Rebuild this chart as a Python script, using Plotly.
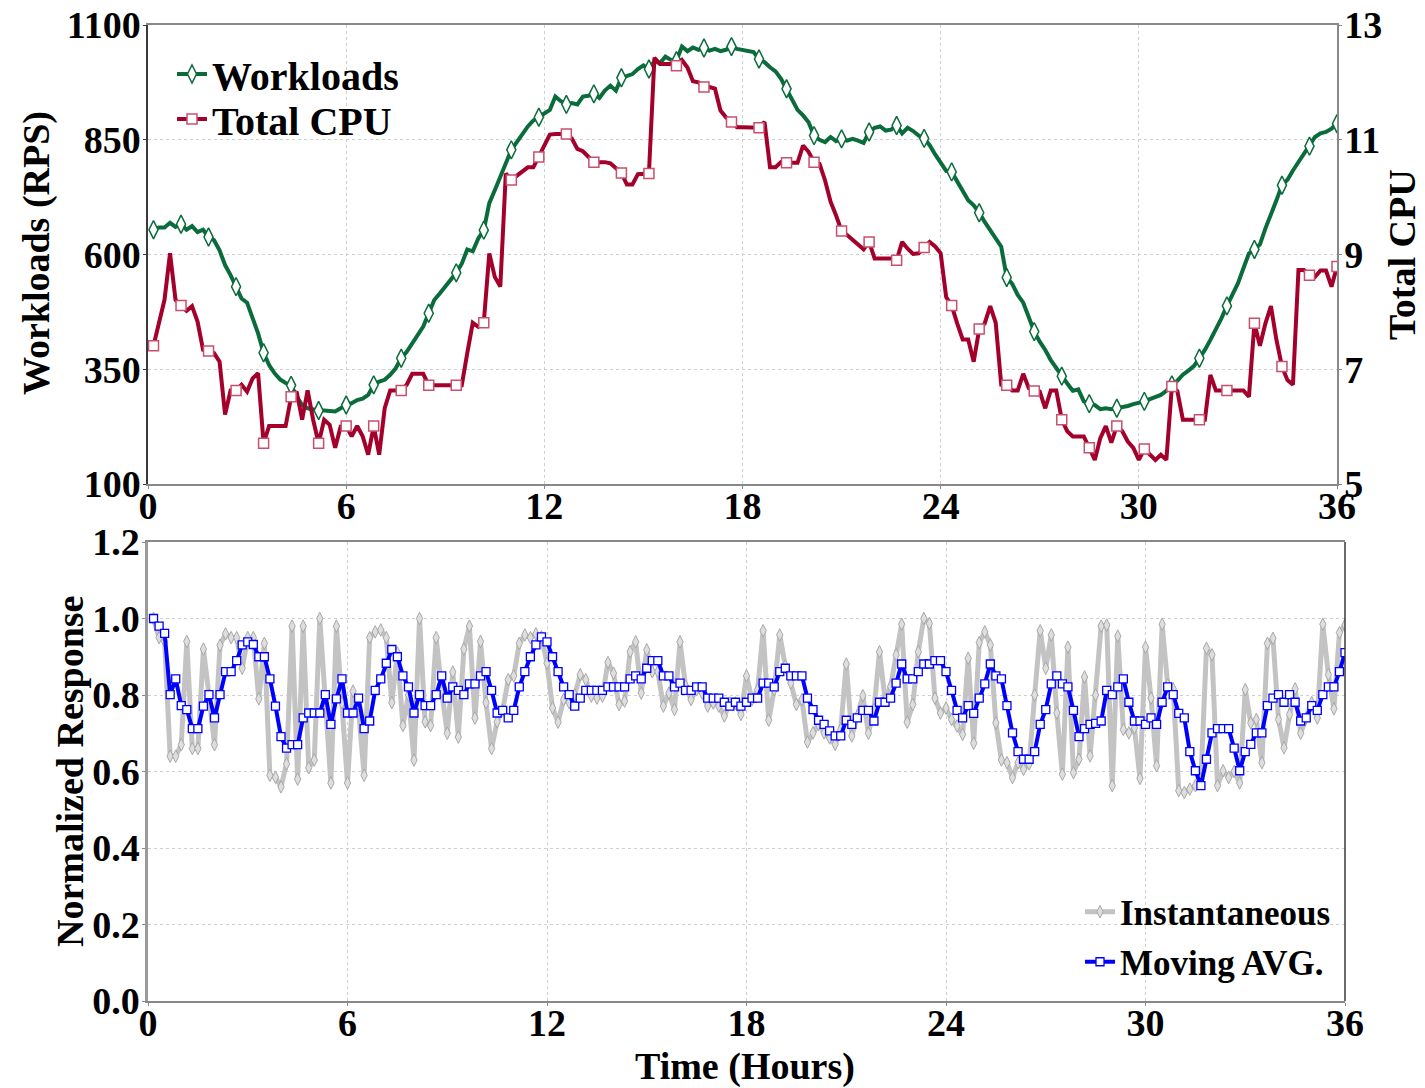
import plotly.graph_objects as go

# ---------------- data (10-minute samples, hours) ----------------
hours = [i / 6 for i in range(1, 217)]

workloads = [
    654, 659, 659, 669, 660, 666, 654, 662, 649, 654,
    638, 631, 609, 577, 555, 530, 504, 495, 461, 428,
    386, 359, 341, 328, 320, 315, 291, 272, 265, 262,
    260, 260, 260, 258, 265, 272, 276, 283, 286, 294,
    316, 323, 327, 338, 352, 374, 388, 407, 425, 443,
    472, 501, 515, 530, 548, 560, 580, 611, 607, 635,
    653, 712, 740, 769, 801, 828, 845, 863, 879, 892,
    899, 908, 915, 944, 934, 927, 930, 927, 944, 946,
    950, 941, 957, 968, 957, 985, 988, 993, 1004, 1012,
    1004, 1021, 1017, 1031, 1024, 1022, 1053, 1043, 1051, 1046,
    1050, 1044, 1048, 1043, 1046, 1053, 1048, 1046, 1044, 1041,
    1026, 1019, 1008, 999, 983, 961, 939, 915, 903, 888,
    859, 850, 845, 856, 847, 852, 848, 852, 848, 843,
    867, 876, 879, 870, 872, 881, 864, 876, 869, 859,
    853, 838, 818, 799, 782, 780, 760, 740, 718, 707,
    691, 671, 653, 638, 617, 550, 536, 512, 495, 464,
    432, 410, 392, 370, 352, 335, 319, 303, 306, 280,
    275, 272, 263, 265, 263, 265, 267, 270, 274, 276,
    280, 285, 289, 294, 303, 316, 325, 338, 347, 357,
    374, 392, 414, 436, 461, 488, 514, 537, 570, 602,
    611, 622, 657, 686, 718, 751, 763, 783, 801, 820,
    836, 856, 864, 867, 874, 885,
]

total_cpu = [
    7.41, 7.80, 8.21, 9.02, 8.21, 8.11, 8.02, 8.10, 7.83, 7.34,
    7.32, 7.28, 7.13, 6.21, 6.63, 6.63, 6.73, 6.61, 6.84, 6.93,
    5.71, 6.01, 6.01, 6.01, 6.01, 6.52, 6.61, 6.12, 6.63, 6.12,
    5.71, 6.12, 6.03, 5.63, 6.00, 6.01, 5.83, 6.01, 5.83, 5.51,
    6.01, 5.51, 6.32, 6.63, 6.63, 6.63, 6.73, 6.92, 6.92, 6.92,
    6.72, 6.72, 6.72, 6.72, 6.72, 6.72, 6.72, 7.28, 7.81, 7.74,
    7.81, 9.02, 8.61, 8.44, 10.41, 10.30, 10.38, 10.46, 10.52, 10.52,
    10.70, 10.90, 11.09, 11.10, 11.10, 11.10, 11.02, 10.84, 10.80, 10.71,
    10.61, 10.61, 10.61, 10.59, 10.50, 10.42, 10.22, 10.22, 10.40, 10.41,
    10.41, 12.43, 12.32, 12.32, 12.32, 12.29, 12.39, 12.26, 12.02, 12.00,
    11.92, 11.92, 11.89, 11.51, 11.39, 11.31, 11.22, 11.22, 11.22, 11.22,
    11.21, 11.31, 10.52, 10.52, 10.61, 10.60, 10.60, 10.60, 10.90, 10.79,
    10.61, 10.58, 10.29, 9.92, 9.68, 9.41, 9.34, 9.25, 9.16, 9.09,
    9.22, 8.93, 8.93, 8.93, 8.93, 8.90, 9.22, 9.10, 9.01, 9.02,
    9.12, 9.22, 9.14, 9.02, 8.26, 8.11, 7.80, 7.52, 7.52, 7.13,
    7.70, 7.80, 8.10, 7.81, 6.73, 6.72, 6.63, 6.63, 6.92, 6.67,
    6.62, 6.61, 6.32, 6.63, 6.63, 6.12, 5.92, 5.83, 5.83, 5.83,
    5.63, 5.42, 5.80, 6.01, 5.72, 6.01, 5.92, 5.74, 5.63, 5.42,
    5.61, 5.51, 5.42, 5.51, 5.42, 6.70, 6.62, 6.12, 6.12, 6.12,
    6.12, 6.12, 6.90, 6.63, 6.63, 6.63, 6.62, 6.63, 6.63, 6.52,
    7.80, 7.41, 7.80, 8.10, 7.51, 7.05, 6.81, 6.73, 8.73, 8.73,
    8.64, 8.61, 8.72, 8.72, 8.44, 8.79,
]

instantaneous = [
    1.00, 0.95, 0.94, 0.64, 0.64, 0.67, 0.94, 0.66, 0.66, 0.92,
    0.80, 0.67, 0.93, 0.96, 0.95, 0.95, 0.87, 0.95, 0.95, 0.79,
    0.935, 0.59, 0.585, 0.56, 0.62, 0.98, 0.58, 0.98, 0.61, 0.63,
    1.00, 0.79, 0.57, 0.98, 0.78, 0.57, 0.81, 0.76, 0.59, 0.95,
    0.965, 0.97, 0.95, 0.78, 0.91, 0.72, 0.80, 0.63, 1.00, 0.73,
    0.72, 0.95, 0.81, 0.70, 0.86, 0.69, 0.92, 0.98, 0.74, 0.94,
    0.78, 0.66, 0.73, 0.76, 0.84, 0.85, 0.935, 0.957, 0.95, 0.96,
    0.952, 0.883, 0.766, 0.729, 0.788, 0.78, 0.80, 0.853, 0.840, 0.797,
    0.792, 0.797, 0.885, 0.857, 0.775, 0.784, 0.913, 0.939, 0.805, 0.918,
    0.861, 0.861, 0.771, 0.805, 0.762, 0.939, 0.823, 0.788, 0.814, 0.805,
    0.771, 0.779, 0.771, 0.745, 0.779, 0.779, 0.749, 0.850, 0.788, 0.814,
    0.968, 0.734, 0.814, 0.957, 0.876, 0.831, 0.775, 0.788, 0.677, 0.701,
    0.723, 0.701, 0.688, 0.671, 0.710, 0.881, 0.693, 0.745, 0.798, 0.700,
    0.762, 0.913, 0.788, 0.822, 0.905, 0.985, 0.729, 0.775, 0.913, 1.00,
    0.987, 0.792, 0.753, 0.766, 0.736, 0.719, 0.697, 0.896, 0.674, 0.937,
    0.965, 0.931, 0.727, 0.630, 0.623, 0.584, 0.623, 0.606, 0.62, 0.80,
    0.968, 0.870, 0.957, 0.753, 0.593, 0.925, 0.597, 0.632, 0.847, 0.641,
    0.80, 0.980, 0.983, 0.563, 0.954, 0.710, 0.701, 0.714, 0.582, 0.925,
    0.792, 0.615, 0.985, 0.827, 0.816, 0.550, 0.545, 0.554, 0.563, 0.58,
    0.922, 0.905, 0.563, 0.602, 0.584, 0.60, 0.57, 0.814, 0.727, 0.736,
    0.623, 0.935, 0.948, 0.736, 0.662, 0.749, 0.816, 0.70, 0.74, 0.78,
    0.740, 0.985, 0.853, 0.764, 0.963, 0.983,
]

moving_avg = [
    1.00, 0.980, 0.961, 0.801, 0.842, 0.772, 0.762, 0.712, 0.712, 0.771,
    0.801, 0.740, 0.801, 0.861, 0.861, 0.890, 0.931, 0.939, 0.932, 0.900,
    0.900, 0.842, 0.771, 0.691, 0.661, 0.670, 0.670, 0.740, 0.753, 0.753,
    0.753, 0.801, 0.723, 0.790, 0.842, 0.753, 0.753, 0.792, 0.712, 0.732,
    0.812, 0.842, 0.883, 0.919, 0.900, 0.850, 0.821, 0.753, 0.801, 0.772,
    0.772, 0.801, 0.850, 0.792, 0.821, 0.812, 0.801, 0.829, 0.829, 0.850,
    0.861, 0.812, 0.753, 0.760, 0.740, 0.760, 0.821, 0.861, 0.900, 0.931,
    0.952, 0.939, 0.900, 0.861, 0.821, 0.801, 0.771, 0.792, 0.812, 0.812,
    0.812, 0.812, 0.821, 0.821, 0.821, 0.821, 0.842, 0.850, 0.842, 0.870,
    0.890, 0.890, 0.850, 0.850, 0.821, 0.831, 0.812, 0.812, 0.821, 0.821,
    0.792, 0.792, 0.792, 0.781, 0.771, 0.781, 0.771, 0.781, 0.792, 0.792,
    0.831, 0.831, 0.821, 0.861, 0.870, 0.850, 0.850, 0.850, 0.792, 0.762,
    0.734, 0.723, 0.706, 0.693, 0.693, 0.734, 0.723, 0.740, 0.760, 0.760,
    0.732, 0.781, 0.781, 0.792, 0.831, 0.881, 0.842, 0.842, 0.861, 0.881,
    0.881, 0.890, 0.890, 0.861, 0.812, 0.760, 0.740, 0.772, 0.752, 0.792,
    0.829, 0.881, 0.850, 0.842, 0.772, 0.701, 0.652, 0.632, 0.632, 0.652,
    0.723, 0.762, 0.829, 0.850, 0.829, 0.821, 0.760, 0.691, 0.712, 0.723,
    0.726, 0.732, 0.812, 0.801, 0.821, 0.842, 0.781, 0.732, 0.732, 0.723,
    0.740, 0.723, 0.781, 0.821, 0.801, 0.752, 0.740, 0.652, 0.602, 0.563,
    0.632, 0.701, 0.712, 0.712, 0.712, 0.661, 0.602, 0.652, 0.671, 0.701,
    0.701, 0.772, 0.792, 0.801, 0.781, 0.801, 0.781, 0.732, 0.740, 0.772,
    0.760, 0.801, 0.821, 0.821, 0.861, 0.911,
]

hour_ticks = [0, 6, 12, 18, 24, 30, 36]
rps_ticks = [100, 350, 600, 850, 1100]
cpu_ticks = [5, 7, 9, 11, 13]
resp_ticks = [0.0, 0.2, 0.4, 0.6, 0.8, 1.0, 1.2]
marker_step = 5

# ---------------- styling ----------------
W, H = 1425, 1088
FONT = "Liberation Serif"
GREEN = "#0a6b3b"
RED = "#a3002b"
RED_EDGE = "#c8506e"
GREY = "#c3c3c3"
BLUE = "#0000ff"
GRID = "#cfcfcf"
DARK = "#3a3a3a"
MID = "#888888"
TICK = 38
DASH = "3px,3px"


def f(size):
    return dict(family=FONT, size=size, color="black", weight="bold")


top_x = [148 / W, 1337 / W]
bot_x = [148 / W, 1345 / W]
top_y = [1 - 484 / H, 1 - 25 / H]
bot_y = [1 - 1001 / H, 1 - 542 / H]

green_marker = dict(symbol="diamond-tall", size=13, color="white",
                    line=dict(color=GREEN, width=1.5))
red_marker = dict(symbol="square", size=10, color="white",
                  line=dict(color=RED_EDGE, width=1.5))
grey_marker = dict(symbol="diamond-tall", size=9, color="#dedede",
                   line=dict(color="#a8a8a8", width=1))
blue_marker = dict(symbol="square", size=8, color="white",
                   line=dict(color=BLUE, width=1.3))

fig = go.Figure()

# --- top: workloads (left axis) ---
fig.add_trace(go.Scatter(x=hours, y=workloads, mode="lines",
                         line=dict(color=GREEN, width=4),
                         xaxis="x", yaxis="y", showlegend=False))
fig.add_trace(go.Scatter(x=hours[::marker_step], y=workloads[::marker_step], mode="markers",
                         marker=green_marker, xaxis="x", yaxis="y", showlegend=False))
# --- top: total CPU (right axis) ---
fig.add_trace(go.Scatter(x=hours, y=total_cpu, mode="lines",
                         line=dict(color=RED, width=4),
                         xaxis="x", yaxis="y2", showlegend=False))
fig.add_trace(go.Scatter(x=hours[::marker_step], y=total_cpu[::marker_step], mode="markers",
                         marker=red_marker, xaxis="x", yaxis="y2", showlegend=False))
# legend entries (top)
fig.add_trace(go.Scatter(x=[None], y=[None], mode="lines+markers", name="Workloads",
                         line=dict(color=GREEN, width=4), marker=green_marker,
                         xaxis="x", yaxis="y", legend="legend"))
fig.add_trace(go.Scatter(x=[None], y=[None], mode="lines+markers", name="Total CPU",
                         line=dict(color=RED, width=4), marker=red_marker,
                         xaxis="x", yaxis="y2", legend="legend2"))

# --- bottom ---
fig.add_trace(go.Scatter(x=hours, y=instantaneous, mode="lines+markers", name="Instantaneous",
                         line=dict(color=GREY, width=5), marker=grey_marker,
                         xaxis="x2", yaxis="y3", legend="legend3"))
fig.add_trace(go.Scatter(x=hours, y=moving_avg, mode="lines+markers", name="Moving AVG.",
                         line=dict(color=BLUE, width=4), marker=blue_marker,
                         xaxis="x2", yaxis="y3", legend="legend4"))

common_x = dict(range=[0, 36], tickvals=hour_ticks, ticks="outside", ticklen=3,
                tickcolor=MID, showgrid=True, gridcolor=GRID, griddash=DASH,
                gridwidth=1, tickfont=f(TICK), zeroline=False, showline=True,
                linecolor=MID, linewidth=1.5, mirror=True, automargin=False,
                ticklabelstandoff=-15)


def leg(x_px, y_px, size):
    return dict(x=x_px / W, y=1 - y_px / H, xanchor="left", yanchor="middle",
                font=f(size), bgcolor="rgba(0,0,0,0)", itemwidth=30,
                tracegroupgap=0, borderwidth=0)


fig.update_layout(
    width=W, height=H,
    margin=dict(l=0, r=0, t=0, b=0),
    paper_bgcolor="white", plot_bgcolor="white",
    xaxis=dict(domain=top_x, anchor="y", **common_x),
    yaxis=dict(domain=top_y, anchor="x", range=[100, 1100], tickvals=rps_ticks,
               ticks="outside", ticklen=3, tickcolor=DARK, showgrid=True,
               gridcolor=GRID, griddash=DASH, tickfont=f(TICK), zeroline=False,
               showline=True, linecolor=DARK, linewidth=1.5, mirror=False,
               automargin=False, ticklabelstandoff=-5),
    yaxis2=dict(overlaying="y", side="right", anchor="x", range=[5, 13],
                tickvals=cpu_ticks, ticks="outside", ticklen=3, tickcolor=MID,
                showgrid=False, tickfont=f(TICK), zeroline=False, showline=True,
                linecolor=MID, linewidth=1.5, automargin=False,
                ticklabelstandoff=-5),
    xaxis2=dict(domain=bot_x, anchor="y3", **common_x),
    yaxis3=dict(domain=bot_y, anchor="x2", range=[0, 1.2], tickvals=resp_ticks,
                tickformat=".1f", ticks="outside", ticklen=3, tickcolor=MID,
                showgrid=True, gridcolor=GRID, griddash=DASH, tickfont=f(TICK),
                zeroline=False, showline=True, linecolor="#9a9a9a", linewidth=2.5,
                mirror=False, automargin=False, ticklabelstandoff=-5),
    legend=leg(172, 74, 40),
    legend2=leg(172, 119, 40),
    legend3=leg(1080, 912, 35),
    legend4=leg(1080, 962, 35),
    shapes=[dict(type="line", xref="x2 domain", yref="y3 domain", x0=1, x1=1,
                 y0=0, y1=1, line=dict(color=DARK, width=1.5))],
    annotations=[
        dict(text="Workloads (RPS)", x=36 / W, y=1 - 253 / H, xref="paper", yref="paper",
             textangle=-90, showarrow=False, font=f(38), xanchor="center", yanchor="middle"),
        dict(text="Total CPU", x=1402 / W, y=1 - 255 / H, xref="paper", yref="paper",
             textangle=-90, showarrow=False, font=f(38), xanchor="center", yanchor="middle"),
        dict(text="Normalized Response", x=70 / W, y=1 - 772 / H, xref="paper", yref="paper",
             textangle=-90, showarrow=False, font=f(38), xanchor="center", yanchor="middle"),
        dict(text="Time (Hours)", x=745 / W, y=1 - 1066 / H, xref="paper", yref="paper",
             showarrow=False, font=f(38), xanchor="center", yanchor="middle"),
    ],
)

fig.write_html("out.html", config={"displayModeBar": False},
               post_script="document.body.style.margin='0';")
